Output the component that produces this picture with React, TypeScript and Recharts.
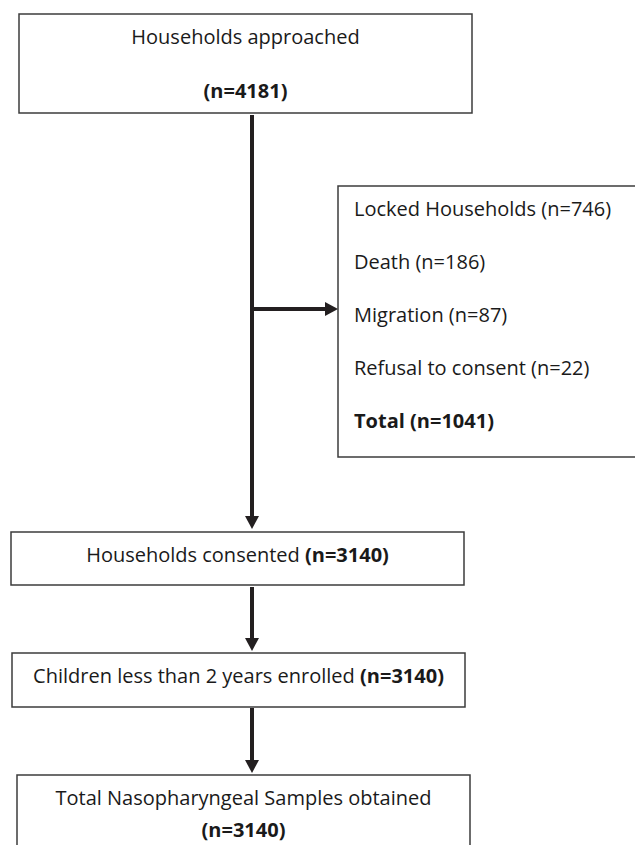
import React from 'react';
import { ScatterChart, Scatter, XAxis, YAxis, ReferenceArea } from 'recharts';

// flow steps (main column)
const stepLabels = [
  'Households approached',
  'Households consented',
  'Children less than 2 years enrolled',
  'Total Nasopharyngeal Samples obtained',
];
const stepCounts = [4181, 3140, 3140, 3140];

// households lost before consent
const exclusionLabels = ['Locked Households', 'Death', 'Migration', 'Refusal to consent'];
const exclusionCounts = [746, 186, 87, 22];
const exclusionTotal = exclusionCounts.reduce((a, b) => a + b, 0);

// layout, in page pixels (domain == chart size)
const W = 635;
const H = 845;
const stepBoxes = [
  { x1: 19, x2: 472, y1: 14, y2: 113 },
  { x1: 11, x2: 464, y1: 532, y2: 585 },
  { x1: 12, x2: 465, y1: 653, y2: 707 },
  { x1: 17, x2: 470, y1: 775, y2: 852 },
];
const exclusionBox = { x1: 338, x2: 642, y1: 186, y2: 457 };
// baseline(s) of each step's text; two entries = label and count on separate lines
const stepTextY = [[44, 98], [562], [683], [805, 837]];
const exclusionTextX = 354;
const exclusionTextY = [216, 269, 322, 375, 428];

const spineX = 252;
const connectors = [
  [{ x: spineX, y: 115 }, { x: spineX, y: 518 }],
  [{ x: spineX, y: 309 }, { x: 327, y: 309 }],
  [{ x: spineX, y: 587 }, { x: spineX, y: 640 }],
  [{ x: spineX, y: 708 }, { x: spineX, y: 762 }],
];
const arrowTips = [
  { x: spineX, y: 529, dir: 'down' },
  { x: 338, y: 309, dir: 'right' },
  { x: spineX, y: 651, dir: 'down' },
  { x: spineX, y: 773, dir: 'down' },
];

const INK = '#231f20';
const BOX = '#3c3c3c';
const FONT = '"Open Sans", Lato, sans-serif';
const FS = 20;

type TextItem = { x: number; y: number; label?: string; count?: number; anchor: string; bold?: boolean };

const textItems: TextItem[] = [];
stepLabels.forEach((label, i) => {
  const cx = (stepBoxes[i].x1 + stepBoxes[i].x2) / 2;
  const ys = stepTextY[i];
  if (ys.length === 2) {
    textItems.push({ x: cx, y: ys[0], label, anchor: 'middle' });
    textItems.push({ x: cx, y: ys[1], count: stepCounts[i], anchor: 'middle' });
  } else {
    textItems.push({ x: cx, y: ys[0], label, count: stepCounts[i], anchor: 'middle' });
  }
});
exclusionLabels.forEach((label, i) => {
  textItems.push({ x: exclusionTextX, y: exclusionTextY[i], label: `${label} (n=${exclusionCounts[i]})`, anchor: 'start' });
});
textItems.push({ x: exclusionTextX, y: exclusionTextY[4], label: `Total (n=${exclusionTotal})`, anchor: 'start', bold: true });

const TextShape = (props: any) => {
  const { cx, cy, payload } = props;
  const p = payload as TextItem;
  return (
    <text
      x={cx}
      y={cy}
      textAnchor={p.anchor}
      fontFamily={FONT}
      fontSize={FS}
      fill="#1a1a1a"
      fontWeight={p.bold ? 'bold' : 'normal'}
    >
      {p.label && <tspan>{p.label}</tspan>}
      {p.count != null && (
        <tspan fontWeight="bold">{p.label ? ' ' : ''}(n={p.count})</tspan>
      )}
    </text>
  );
};

const ArrowHead = (props: any) => {
  const { cx, cy, payload } = props;
  const pts =
    payload.dir === 'down'
      ? `${cx - 7},${cy - 13} ${cx + 7},${cy - 13} ${cx},${cy}`
      : `${cx - 13},${cy - 7} ${cx - 13},${cy + 7} ${cx},${cy}`;
  return <polygon points={pts} fill={INK} />;
};

const NoDot = () => <g />;

export default function App() {
  return (
    <div style={{ position: 'absolute', left: 0, top: 0, background: '#fff' }}>
      <ScatterChart width={W} height={H} margin={{ top: 0, right: 0, bottom: 0, left: 0 }}>
        <XAxis type="number" dataKey="x" domain={[0, W]} hide />
        <YAxis type="number" dataKey="y" domain={[0, H]} reversed hide />
        {[...stepBoxes, exclusionBox].map((b, i) => (
          <ReferenceArea
            key={`box-${i}`}
            x1={b.x1}
            x2={b.x2}
            y1={b.y1}
            y2={b.y2}
            fill="none"
            stroke={BOX}
            strokeWidth={1.5}
            ifOverflow="hidden"
          />
        ))}
        {connectors.map((seg, i) => (
          <Scatter
            key={`seg-${i}`}
            data={seg}
            line={{ stroke: INK, strokeWidth: 4 }}
            shape={NoDot}
            isAnimationActive={false}
          />
        ))}
        <Scatter data={arrowTips} shape={ArrowHead} isAnimationActive={false} />
        <Scatter data={textItems} shape={TextShape} isAnimationActive={false} />
      </ScatterChart>
    </div>
  );
}
